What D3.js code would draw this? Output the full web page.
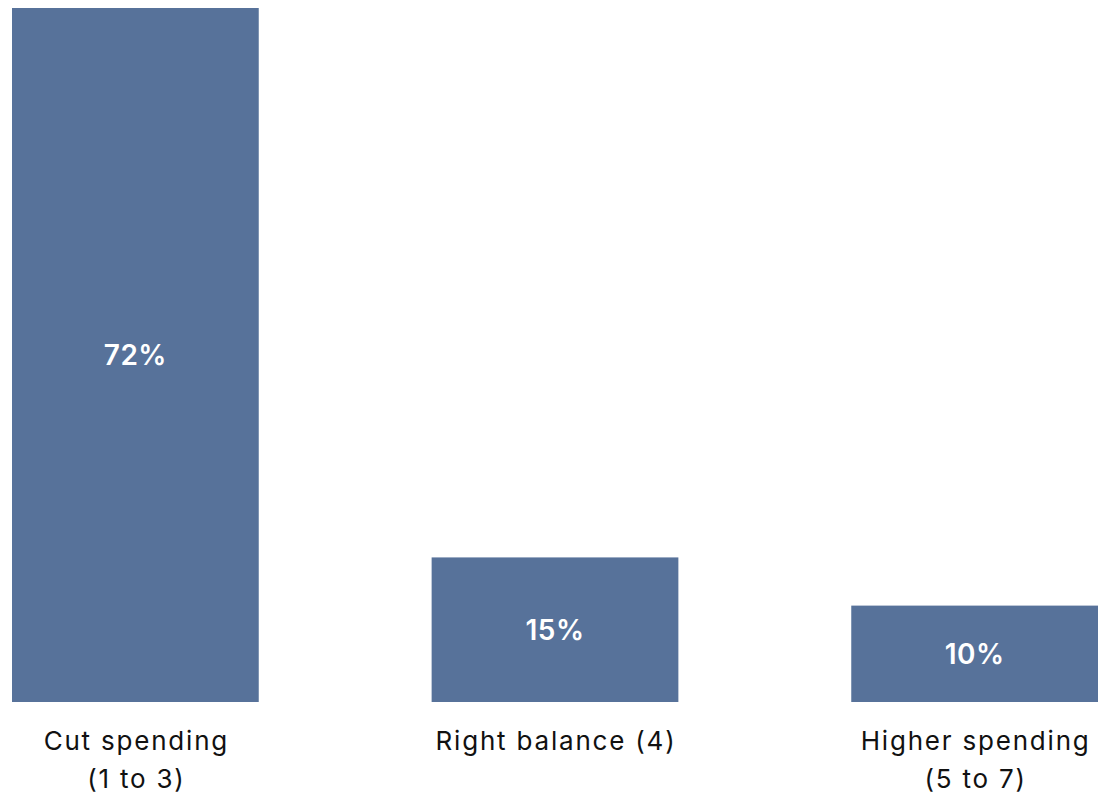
<!DOCTYPE html>
<html><head><meta charset="utf-8">
<script src="https://cdn.jsdelivr.net/npm/d3@7"></script>
<style>html,body{margin:0;padding:0;background:#fff;}svg{display:block;}</style>
</head><body>
<svg id="chart" width="1099" height="796"></svg>
<script>
const categories = ["Cut spending|(1 to 3)", "Right balance (4)", "Higher spending|(5 to 7)"];
const values = [72, 15, 10];
const valueLabels = ["72%", "15%", "10%"];

const svg = d3.select("#chart");
const x = d3.scaleBand().domain(categories).range([12, 1098]).paddingInner(0.412).paddingOuter(0);
const y = d3.scaleLinear().domain([0, 72]).range([702, 8]);
const font = "Inter, 'Open Sans', sans-serif";

svg.selectAll("rect.bar").data(values).join("rect")
  .attr("class", "bar")
  .attr("x", (d, i) => x(categories[i]))
  .attr("width", x.bandwidth())
  .attr("y", d => y(d))
  .attr("height", d => y(0) - y(d))
  .attr("fill", "#57729a");

svg.selectAll("text.val").data(values).join("text")
  .attr("class", "val")
  .attr("x", (d, i) => x(categories[i]) + x.bandwidth() / 2)
  .attr("y", d => (y(d) + y(0)) / 2)
  .attr("dy", "0.36em")
  .attr("text-anchor", "middle")
  .attr("fill", "#fff")
  .attr("font-family", font)
  .attr("font-weight", 600)
  .attr("font-size", 28)
  .attr("letter-spacing", 0.5)
  .text((d, i) => valueLabels[i]);

const lab = svg.selectAll("text.cat").data(categories).join("text")
  .attr("class", "cat")
  .attr("text-anchor", "middle")
  .attr("fill", "#111")
  .attr("font-family", font)
  .attr("font-size", 26)
  .attr("letter-spacing", 1.8);
lab.each(function(d) {
  const t = d3.select(this);
  d.split("|").forEach((line, j) => {
    t.append("tspan")
      .attr("x", x(d) + x.bandwidth() / 2 + 1)
      .attr("y", 750 + j * 38)
      .text(line);
  });
});
</script>
</body></html>
